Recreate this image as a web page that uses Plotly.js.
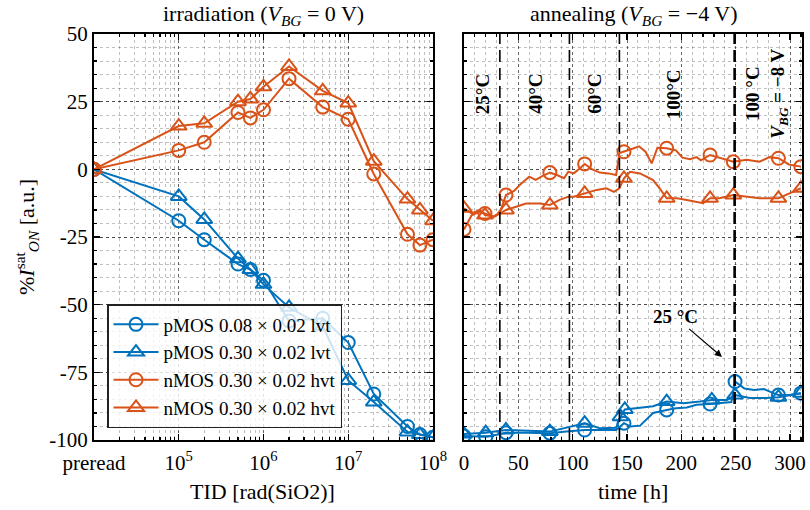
<!DOCTYPE html>
<html><head><meta charset="utf-8">
<script src="https://cdn.plot.ly/plotly-3.0.1.min.js"></script>
<style>html,body{margin:0;padding:0;background:#fff}</style>
</head><body><div id="chart" style="width:810px;height:510px"></div>
<script>
// ---------- data ----------
const seriesNames = ['pMOS 0.08 × 0.02 lvt', 'pMOS 0.30 × 0.02 lvt', 'nMOS 0.30 × 0.02 hvt', 'nMOS 0.30 × 0.02 hvt'];
const PRERAD_POS = 1e4; // position used on the log axis for "preread"
const tidTickVals = [1e4, 1e5, 1e6, 1e7, 1e8];
const tidTickText = ['preread', '10<sup>5</sup>', '10<sup>6</sup>', '10<sup>7</sup>', '10<sup>8</sup>'];
const tidDose = [PRERAD_POS, 1e5, 2e5, 5e5, 7e5, 1e6, 2e6, 5e6, 1e7, 2e7, 5e7, 7e7, 1e8];

const irrP008 = [0, -19, -26, -35, -37, -41, -56, -55, -64, -83, -95, -98, -99];
const irrP030 = [0, -10, -18.5, -33, -37, -42.5, -51, -58, -78, -86, -97, -98, -99];
const irrN030c = [0, 7, 10, 21, 19, 22, 33.5, 23, 18.5, -1.7, -24, -28, -26];
const irrN030t = [0, 16, 17, 25, 26, 30.5, 38, 29, 24.5, 3, -11, -15, -19];

const yTickVals = [-100, -75, -50, -25, 0, 25, 50];
const yTickText = ['-100', '-75', '-50', '-25', '0', '25', '50'];

// annealing (time in h, value in %)
const annP008T = [0, 20, 30, 38.6, 58, 79, 94, 111, 125, 140, 147.2, 153, 162, 174, 186.5, 195, 205, 214, 226.4, 235, 246, 249.4, 258, 267, 276, 282, 289.3, 299, 310];
const annP008V = [-98.5, -98.8, -98.1, -97.3, -97.3, -97.5, -96.9, -96.3, -96.3, -96.3, -93.8, -95, -94.7, -90, -88.9, -88.3, -88, -87, -86.7, -86.4, -86, -78.4, -81, -81.5, -81.2, -82.2, -83.4, -83.4, -82.7];
const annP008M = [0, 1, 3, 5, 7, 10, 14, 18, 21, 26, 28];

const annP030T = [0, 20, 38.6, 79, 111, 125, 140, 144, 148, 160, 174, 186.5, 202, 217, 228, 242, 249.4, 263, 278, 289.3, 310];
const annP030V = [-97.8, -97.3, -96.3, -96.9, -93.8, -95.7, -95.5, -91.4, -88.7, -88.1, -87.5, -85.8, -86.4, -85.8, -85.2, -85.2, -83.4, -84.5, -84.5, -84.2, -82.7];
const annP030M = [0, 1, 2, 3, 4, 7, 8, 11, 14, 16, 19, 20];

const annN030cT = [0, 7, 14.7, 19.3, 27, 33, 38.6, 46, 52, 60, 66, 72, 79, 86, 92, 96, 101, 107, 111, 118, 125, 133, 140, 143, 147.2, 155, 161, 167, 172.7, 178, 186.5, 195, 201, 208, 214, 218, 226.4, 235, 247.8, 260, 272, 281, 289.3, 299, 310];
const annN030cV = [-22.2, -17, -15.6, -16.3, -17.5, -16, -9.5, -8, -5.5, -2.7, -3.9, -2.5, -1.2, -2.2, -3.3, -0.9, -1.5, 0.5, 2.0, 0, -1.2, -1.5, -2.1, 6, 6.5, 7.6, 8.5, 6.5, 2.2, 8, 7.8, 7, 4.3, 3.7, 4.5, 3.3, 5.3, 4.3, 2.8, 3.5, 2.8, 4.5, 4.1, 1.8, 1.0];
const annN030cM = [0, 3, 6, 12, 18, 24, 30, 36, 38, 42, 44];

const annN030tT = [0, 7, 14.7, 19.3, 28, 38.6, 48, 57, 70, 79, 88, 96, 101, 111, 122, 131, 138, 143, 147.2, 152.8, 162, 174, 180, 186.5, 196, 205, 214, 220, 226.4, 235, 247.8, 260, 272, 289.3, 300, 310];
const annN030tV = [-14.4, -16.3, -15, -16.9, -17.5, -15, -13.8, -12.6, -12.6, -13.2, -11.3, -10.1, -10.1, -8.9, -7.6, -7.0, -8.3, -7.0, -3.3, -0.9, -1.5, -4, -7, -10.7, -10.7, -11.3, -11.9, -12.5, -10.7, -10.7, -9.5, -10.1, -10.7, -10.7, -8.9, -7.0];
const annN030tM = [0, 3, 5, 9, 13, 18, 23, 28, 30, 33, 35];

const phaseBounds = [33, 97, 143, 249];
const phaseLabels = ['25°C', '40°C', '60°C', '100°C', '100 °C<br><i>V</i><sub><i>BG</i></sub> = −8 V'];
const phaseLabelT = [16.6, 65, 119.4, 192.5, 278.4];

// ---------- styling ----------
const BLUE = '#0072BD', ORANGE = '#D95319';
const FONT = 'Liberation Serif, Times New Roman, serif';
const colors = [BLUE, BLUE, ORANGE, ORANGE];
const symbols = ['circle-open', 'triangle-up-open', 'circle-open', 'triangle-up-open'];
const msize = [13, 14, 13, 14];

const irr = [irrP008, irrP030, irrN030c, irrN030t];
const ann = [[annP008T, annP008V, annP008M], [annP030T, annP030V, annP030M], [annN030cT, annN030cV, annN030cM], [annN030tT, annN030tV, annN030tM]];

const traces = [];
irr.forEach((vals, i) => {
  traces.push({
    x: tidDose, y: vals, name: seriesNames[i], type: 'scatter', mode: 'lines+markers',
    xaxis: 'x', yaxis: 'y',
    line: {color: colors[i], width: 2},
    marker: {symbol: symbols[i], size: msize[i], color: colors[i], line: {width: 2, color: colors[i]}}
  });
});
ann.forEach((s, i) => {
  const [t, v, m] = s;
  traces.push({
    x: t, y: v, type: 'scatter', mode: 'lines', xaxis: 'x2', yaxis: 'y2', showlegend: false,
    line: {color: colors[i], width: 2}, hoverinfo: 'skip'
  });
  traces.push({
    x: m.map(k => t[k]), y: m.map(k => v[k]), type: 'scatter', mode: 'markers', xaxis: 'x2', yaxis: 'y2', showlegend: false,
    marker: {symbol: symbols[i], size: msize[i], color: colors[i], line: {width: 2, color: colors[i]}}
  });
});

const minorTid = [];
for (let d = 4; d < 8; d++) for (let k = 2; k <= 9; k++) minorTid.push(k * Math.pow(10, d));

const W = 810, H = 510;
const axisCommon = {
  ticks: 'inside', ticklen: 6, tickwidth: 1.2, tickcolor: '#000',
  showline: true, linewidth: 2, linecolor: '#000', mirror: 'ticks',
  showgrid: true, gridcolor: 'rgba(0,0,0,0.6)', griddash: 'dot', gridwidth: 1,
  zeroline: false, tickfont: {family: FONT, size: 21, color: '#000'}
};
const minorCommon = {ticks: 'inside', ticklen: 3, tickcolor: '#000', showgrid: true, gridcolor: 'rgba(0,0,0,0.25)', griddash: 'dot', gridwidth: 1};

const yDomain = [1 - 440 / H, 1 - 34 / H];
function paperNote(px, py, text, extra) {
  return Object.assign({xref: 'paper', yref: 'paper', x: px / W, y: 1 - py / H, xanchor: 'center', yanchor: 'middle',
    text: text, showarrow: false, font: {family: FONT, size: 22, color: '#000'}}, extra || {});
}
const layout = {
  width: W, height: H, margin: {l: 0, r: 0, t: 0, b: 0},
  paper_bgcolor: '#fff', plot_bgcolor: '#fff',
  font: {family: FONT, size: 20, color: '#000'},
  showlegend: true,
  legend: {x: 107 / W, y: 1 - 428 / H, xanchor: 'left', yanchor: 'bottom',
    bgcolor: 'rgba(255,255,255,0.8)', bordercolor: '#222', borderwidth: 1.5,
    font: {family: FONT, size: 19, color: '#000'}, itemwidth: 45, tracegroupgap: 0},
  xaxis: Object.assign({}, axisCommon, {type: 'log', domain: [94 / W, 433 / W], range: [4, 8], anchor: 'y',
    tickmode: 'array', tickvals: tidTickVals, ticktext: tidTickText, ticklabelstandoff: 3,
    minor: Object.assign({}, minorCommon, {tickvals: minorTid})}),
  yaxis: Object.assign({}, axisCommon, {domain: yDomain, range: [-100, 50], anchor: 'x',
    tickmode: 'array', tickvals: yTickVals, ticktext: yTickText,
    minor: Object.assign({}, minorCommon, {dtick: 5})}),
  xaxis2: Object.assign({}, axisCommon, {domain: [464 / W, 802 / W], range: [0, 311], anchor: 'y2',
    dtick: 50, tick0: 0, ticklabelstandoff: 3, minor: Object.assign({}, minorCommon, {dtick: 10})}),
  yaxis2: Object.assign({}, axisCommon, {domain: yDomain, range: [-100, 50], anchor: 'x2', showticklabels: false,
    tickmode: 'array', tickvals: yTickVals,
    minor: Object.assign({}, minorCommon, {dtick: 5})}),
  shapes: phaseBounds.map((t, i) => ({
    type: 'line', xref: 'x2', yref: 'paper', x0: t, x1: t, y0: yDomain[0], y1: yDomain[1],
    line: {color: '#000', width: i === 3 ? 2.6 : 1.6, dash: '12px,6px'}, layer: 'above'
  })),
  annotations: [
    paperNote(263, 15, 'irradiation (<i>V</i><sub><i>BG</i></sub> = 0 V)'),
    paperNote(633, 15, 'annealing (<i>V</i><sub><i>BG</i></sub> = −4 V)'),
    paperNote(262, 491, 'TID [rad(SiO2)]'),
    paperNote(633, 491, 'time [h]'),
    paperNote(26, 237, '%<i>I</i><sup>sat</sup><sub><i>ON</i></sub> [a.u.]', {textangle: -90}),
    {xref: 'x2', yref: 'y2', x: 237.4, y: -69.3, ax: -47, ay: -40, text: '<b>25 °C</b>', showarrow: true,
      arrowhead: 2, arrowsize: 1.2, arrowwidth: 1.2, arrowcolor: '#000', font: {family: FONT, size: 19, color: '#000'}}
  ].concat(phaseLabels.map((txt, i) => ({
    xref: 'x2', yref: 'y2', x: phaseLabelT[i], y: 27.8, xanchor: 'center', yanchor: 'middle',
    text: '<b>' + txt + '</b>', textangle: -90, showarrow: false,
    font: {family: FONT, size: 19, color: '#000'}
  })))
};

Plotly.newPlot('chart', traces, layout, {displayModeBar: false, staticPlot: true});
</script></body></html>
